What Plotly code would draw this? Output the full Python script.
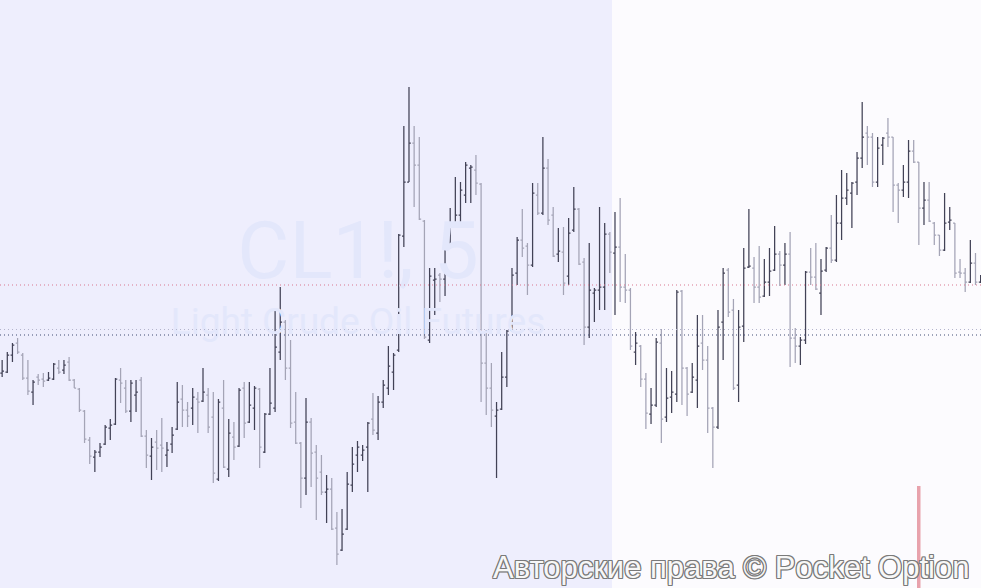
import plotly.graph_objects as go

# ---- data ----
bar_index = list(range(191))

open_ = [72.27,72.28,72.45,72.57,72.45,72.22,72.08,72.23,72.21,72.20,
72.21,72.32,72.30,72.38,72.20,72.11,71.89,71.60,71.43,71.48,
71.56,71.72,71.76,72.20,72.12,71.89,72.05,72.20,71.64,71.44,
71.58,71.55,71.45,71.56,71.71,72.01,71.90,71.92,72.01,71.99,
72.05,71.83,71.21,71.92,71.31,71.63,71.54,72.12,71.78,71.92,
72.11,71.48,71.86,71.92,72.48,72.78,72.32,71.78,71.57,71.22,
71.78,71.48,71.28,71.08,71.11,70.72,70.50,70.71,71.15,71.45,
71.45,71.53,71.81,71.67,71.98,72.12,72.28,72.50,73.64,74.18,
74.57,74.35,73.79,72.60,73.20,73.25,73.21,73.54,73.73,73.85,
74.05,74.32,74.30,74.16,72.37,72.12,71.84,71.91,72.23,72.70,
73.27,73.60,73.54,73.35,74.05,73.87,74.32,73.85,73.46,73.48,
73.24,73.70,73.91,73.38,72.73,73.07,73.10,73.13,73.66,73.47,
73.53,73.13,73.10,72.48,72.54,72.21,71.86,71.95,72.57,71.83,
72.03,72.06,73.09,72.32,72.08,72.20,72.57,72.40,71.92,71.73,
72.78,73.30,72.90,72.15,72.74,73.33,73.32,73.13,73.04,73.18,
73.30,73.46,73.35,73.46,72.62,72.54,72.60,73.28,73.23,73.07,
73.30,73.52,73.40,73.77,74.02,74.07,74.18,74.42,74.67,74.63,
74.18,74.55,74.67,74.63,74.15,74.10,74.18,74.49,74.38,73.92,
74.00,73.77,73.65,73.50,73.78,73.77,73.28,73.27,73.18,73.37,
73.18]

high = [72.40,72.48,72.57,72.62,72.47,72.40,72.20,72.26,72.27,72.28,
72.37,72.40,72.40,72.43,72.21,72.12,71.90,71.63,71.50,71.57,
71.75,71.81,72.22,72.32,72.20,72.20,72.20,72.23,71.70,71.62,
71.70,71.82,71.58,71.73,72.18,72.15,71.98,72.12,72.08,72.32,
72.12,72.08,72.01,72.20,71.81,71.78,72.12,72.18,72.18,72.14,
72.12,71.87,72.32,72.90,73.13,72.80,72.60,72.08,71.58,72.02,
71.82,71.55,71.45,71.25,71.22,70.88,70.91,71.28,71.53,71.59,
71.55,71.78,72.07,72.04,72.20,72.54,72.47,73.66,74.74,75.13,
74.74,74.63,73.80,73.32,73.32,73.27,73.63,73.92,74.23,74.18,
74.38,74.35,74.45,74.17,72.70,72.37,71.98,72.48,72.70,73.32,
73.63,73.91,73.57,74.17,74.17,74.63,74.41,73.93,73.72,73.73,
73.82,74.13,73.92,73.42,73.57,73.12,73.93,73.77,73.68,73.88,
74.02,73.46,73.12,72.68,72.55,72.27,72.12,72.62,72.71,72.32,
72.29,73.10,73.10,72.33,72.37,72.85,72.85,72.54,71.93,72.90,
73.32,73.32,73.01,72.90,73.52,73.91,73.43,73.54,73.41,73.52,
73.74,73.49,73.57,73.68,72.72,72.63,73.29,73.52,73.57,73.41,
73.53,73.85,74.05,74.30,74.27,74.18,74.48,74.98,74.74,74.67,
74.63,74.63,74.82,74.63,74.17,74.35,74.60,74.60,74.38,74.18,
74.18,73.78,73.65,74.07,73.93,73.77,73.41,73.32,73.60,73.47,
73.25]

low = [72.23,72.27,72.38,72.46,72.20,72.05,71.95,72.15,72.13,72.19,
72.20,72.26,72.26,72.19,72.12,71.88,71.57,71.36,71.28,71.43,
71.55,71.60,71.75,71.97,71.87,71.78,71.88,71.63,71.32,71.20,
71.30,71.28,71.33,71.47,71.70,71.73,71.73,71.75,71.67,71.98,
71.67,71.17,71.19,71.32,71.23,71.40,71.53,71.62,71.77,71.70,
71.32,71.47,71.85,71.88,72.40,72.20,71.72,71.56,70.92,71.05,
71.13,70.80,71.05,70.77,70.70,70.35,70.49,70.70,71.08,71.28,
71.39,71.08,71.65,71.60,71.92,72.05,72.10,72.48,73.53,74.18,
73.93,73.80,72.61,72.57,72.85,72.98,73.04,73.53,73.72,73.72,
73.97,73.97,74.05,71.98,71.85,71.73,71.22,71.90,72.13,72.68,
73.15,73.43,73.05,73.33,73.85,73.85,73.75,73.43,73.38,73.05,
73.15,73.68,73.35,72.55,72.62,72.78,72.90,72.90,73.27,72.85,
72.98,72.97,72.50,72.35,72.13,71.71,71.76,71.93,71.57,71.78,
71.87,71.98,71.95,71.84,72.07,71.92,72.30,71.67,71.32,71.71,
72.40,72.83,72.10,71.98,72.58,73.32,72.97,72.97,73.03,73.04,
73.29,73.14,73.15,72.33,72.37,72.35,72.56,73.15,73.10,72.85,
73.28,73.37,73.38,73.60,73.95,73.72,74.05,74.32,74.35,74.13,
74.13,74.35,74.53,73.88,73.77,74.03,74.02,74.37,73.55,73.75,
73.78,73.55,73.44,73.49,73.70,73.22,73.22,73.08,73.17,73.15,
73.17]

close = [72.29,72.45,72.55,72.48,72.22,72.09,72.18,72.20,72.19,72.22,
72.36,72.28,72.35,72.20,72.12,71.90,71.61,71.44,71.48,71.53,
71.73,71.75,72.21,72.17,71.89,72.17,72.08,71.64,71.45,71.53,
71.52,71.52,71.50,71.65,71.98,71.90,71.84,72.03,71.98,72.08,
71.73,71.27,71.98,71.33,71.67,71.53,72.10,71.77,71.95,72.12,
71.53,71.86,71.97,72.53,72.78,72.32,71.77,71.57,71.22,71.78,
71.47,71.22,71.08,71.11,70.71,70.46,70.66,71.16,71.36,71.53,
71.50,71.77,71.70,71.98,72.15,72.34,72.45,73.65,74.18,74.57,
74.35,73.81,72.63,73.24,73.21,73.21,73.54,73.73,73.85,74.10,
74.35,74.33,74.17,72.37,72.12,71.90,71.90,72.23,72.69,73.25,
73.60,73.52,73.35,74.07,73.87,74.32,73.80,73.44,73.49,73.17,
73.67,73.91,73.36,72.73,73.10,73.10,73.13,73.66,73.48,73.53,
73.13,73.10,72.54,72.57,72.21,71.87,71.95,72.58,71.81,72.02,
72.08,73.08,72.32,72.06,72.23,72.54,72.40,71.92,71.73,72.73,
73.27,72.88,72.12,72.73,73.32,73.34,73.13,73.03,73.18,73.29,
73.46,73.35,73.46,72.62,72.54,72.60,73.28,73.23,73.11,73.29,
73.52,73.40,73.77,74.02,74.10,74.17,74.42,74.63,74.63,74.18,
74.52,74.62,74.63,74.15,74.10,74.18,74.49,74.38,73.92,74.00,
73.79,73.65,73.50,73.77,73.80,73.27,73.27,73.18,73.37,73.18,
73.21]

level_lines = [73.15, 72.705, 72.65]
level_colors = ["#d9768f", "#b4b4cc", "#3f4a72"]

symbol_text = "CL1!, 5"
description_text = "Light Crude Oil Futures"
copyright_text = "Авторские права © Pocket Option"

W, H = 981, 588
fig = go.Figure()

# watermark (drawn beneath the bars)
fig.add_trace(go.Scatter(
    x=[69.1, 69.1], y=[73.42, 72.75], mode="text",
    text=[symbol_text, description_text],
    textfont=dict(family="Roboto", size=[80, 37], color="#e3e7fb"),
    hoverinfo="skip", showlegend=False))

fig.add_trace(go.Ohlc(
    x=bar_index, open=open_, high=high, low=low, close=close,
    increasing=dict(line=dict(color="#424256", width=1.25)),
    decreasing=dict(line=dict(color="#a4a4b6", width=1.25)),
    tickwidth=0.36, hoverinfo="skip", showlegend=False))

shapes = [
    dict(type="rect", xref="paper", yref="paper", x0=0, x1=612 / W, y0=0, y1=1,
         fillcolor="#eeeefd", line=dict(width=0), layer="below"),
]
for lv, col in zip(level_lines, level_colors):
    shapes.append(dict(type="line", xref="paper", yref="y", x0=0, x1=1, y0=lv, y1=lv,
                       line=dict(color=col, width=1, dash="1px,3px"), layer="above"))
shapes.append(dict(type="rect", xref="paper", yref="paper",
                   x0=917 / W, x1=920.5 / W, y0=0, y1=(H - 486) / H,
                   fillcolor="#e8a2ac", line=dict(width=0), layer="above"))

fig.update_layout(
    width=W, height=H, margin=dict(l=0, r=0, t=0, b=0),
    paper_bgcolor="#fcfbfe", plot_bgcolor="rgba(0,0,0,0)",
    shapes=shapes, showlegend=False,
    xaxis=dict(range=[-0.417, 190.07], visible=False, rangeslider=dict(visible=False),
               fixedrange=True),
    yaxis=dict(range=[70.12, 76.00], visible=False, fixedrange=True),
    annotations=[dict(
        text=copyright_text, xref="paper", yref="paper", x=(W - 10) / W, y=0.0,
        xanchor="right", yanchor="bottom", yshift=1, showarrow=False,
        font=dict(family="Liberation Sans", size=31, color="#f7f7f7",
                  shadow="1px 0 0 #7a7a7a, -1px 0 0 #7a7a7a, 0 1px 0 #7a7a7a, 0 -1px 0 #7a7a7a, 1px 1px 0 #7a7a7a, -1px -1px 0 #7a7a7a, 1px -1px 0 #7a7a7a, -1px 1px 0 #7a7a7a"))],
)

fig.write_html("out.html", config={"displayModeBar": False},
               post_script="document.body.style.margin='0';document.body.style.overflow='hidden';")
